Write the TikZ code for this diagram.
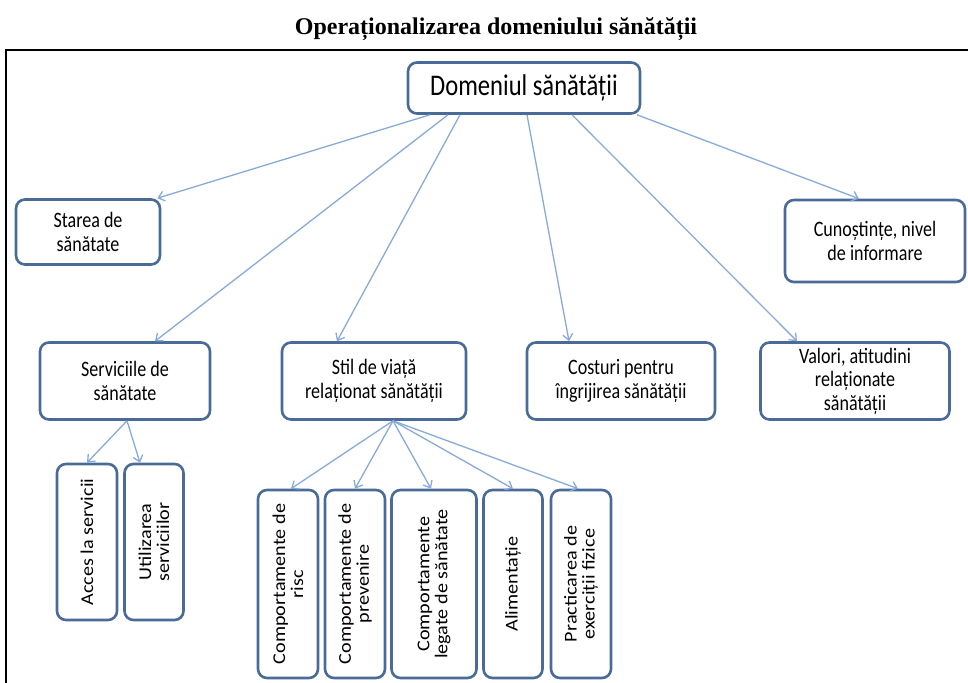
\documentclass[tikz,border=0pt]{standalone}
\usepackage{fontspec}
\setmainfont{Carlito}
\newfontfamily\titlefont{Liberation Serif}
\newfontfamily\boxfont{Carlito}[FakeStretch=0.82]
\newfontfamily\vertfont{Carlito}[FakeStretch=1.12]
\usepackage{tikz}
\usetikzlibrary{arrows.meta,positioning}
\definecolor{FrameBlue}{HTML}{4A6B98}
\definecolor{LinkBlue}{HTML}{88AAD8}
\tikzset{
  HB/.style={rectangle,rounded corners=9pt,draw=FrameBlue,line width=2.6pt,
             fill=white,align=center,inner sep=2pt,
             font=\boxfont\fontsize{22}{23.5}\selectfont},
  VB/.style={HB,rotate=90,font=\vertfont\fontsize{18}{18}\selectfont},
  arr/.style={-{Straight Barb[length=6pt,width=10pt]},line width=1.3pt,LinkBlue}
}

\begin{document}
\begin{tikzpicture}[x=1pt,y=-1pt]
  \useasboundingbox (0,0) rectangle (968,682);
  \clip (0,0) rectangle (968,682);
  \node[font=\titlefont\bfseries\fontsize{24}{26}\selectfont] (title) at (496,29) {Operaționalizarea domeniului sănătății};
  \draw[line width=2pt] (6,50) rectangle (990,700);

  % top level
  \node[HB,minimum width=232pt,minimum height=51pt,font=\boxfont\fontsize{30}{32}\selectfont] (root) at (524,88) {Domeniul sănătății};
  \node[HB,minimum width=144pt,minimum height=65pt] (starea) at (88,232) {Starea de\\sănătate};
  \node[HB,minimum width=180pt,minimum height=82pt] (cuno) at (875,241) {Cunoștințe, nivel\\de informare};
  \node[HB,minimum width=170pt,minimum height=77pt] (serv) at (125,381) {Serviciile de\\sănătate};
  \node[HB,minimum width=184pt,minimum height=77pt] (stil) at (374,381) {Stil de viață\\relaționat sănătății};
  \node[HB,minimum width=188pt,minimum height=77pt] (cost) at (621,381) {Costuri pentru\\îngrijirea sănătății};
  \node[HB,minimum width=189pt,minimum height=77pt] (valori) at (855,381) {Valori, atitudini\\relaționate\\sănătății};

  % vertical boxes
  \node[VB,minimum width=156pt,minimum height=60pt] (acces) at (87,542) {Acces la servicii};
  \node[VB,minimum width=156pt,minimum height=59pt] (util) at (154,542) {Utilizarea\\serviciilor};
  \node[VB,minimum width=188pt,minimum height=60pt] (risc) at (288,584) {Comportamente de\\risc};
  \node[VB,minimum width=188pt,minimum height=60pt] (prev) at (355,584) {Comportamente de\\prevenire};
  \node[VB,minimum width=188pt,minimum height=85pt] (leg) at (434,584) {Comportamente\\legate de sănătate};
  \node[VB,minimum width=188pt,minimum height=59pt] (alim) at (513,584) {Alimentație};
  \node[VB,minimum width=188pt,minimum height=60pt] (pract) at (581,584) {Practicarea de\\exerciții fizice};

  \draw[arr] ([xshift=-94pt]root.south) -- ([xshift=-4pt]starea.north east);
  \draw[arr] ([xshift=-76pt]root.south) -- ([xshift=30pt]serv.north);
  \draw[arr] ([xshift=-64pt]root.south) -- ([xshift=-37pt]stil.north);
  \draw[arr] ([xshift=3pt]root.south) -- ([xshift=-52pt]cost.north);
  \draw[arr] ([xshift=48pt]root.south) -- ([xshift=-58pt]valori.north);
  \draw[arr] ([xshift=113pt]root.south) -- ([xshift=-16pt]cuno.north);

  \draw[arr] ([xshift=2pt]serv.south) -- (acces.east);
  \draw[arr] ([xshift=2pt]serv.south) -- ([xshift=-14pt]util.east);

  \draw[arr] ([xshift=19pt]stil.south) -- ([xshift=3pt]risc.east);
  \draw[arr] ([xshift=19pt]stil.south) -- (prev.east);
  \draw[arr] ([xshift=19pt]stil.south) -- ([xshift=-3pt]leg.east);
  \draw[arr] ([xshift=19pt]stil.south) -- (alim.east);
  \draw[arr] ([xshift=19pt]stil.south) -- ([xshift=-3pt]pract.east);
\end{tikzpicture}
\end{document}
